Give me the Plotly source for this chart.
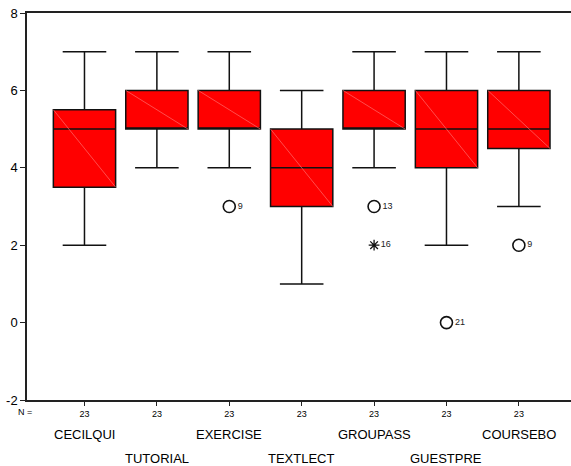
import plotly.graph_objects as go

categories = ["CECILQUI", "TUTORIAL", "EXERCISE", "TEXTLECT", "GROUPASS", "GUESTPRE", "COURSEBO"]
n_counts = [23, 23, 23, 23, 23, 23, 23]
lower_whisker = [2, 4, 4, 1, 4, 2, 3]
q1_vals = [3.5, 5, 5, 3, 5, 4, 4.5]
median_vals = [5, 5, 5, 4, 5, 5, 5]
q3_vals = [5.5, 6, 6, 5, 6, 6, 6]
upper_whisker = [7, 7, 7, 6, 7, 7, 7]

# outliers: (category index, value, case label)
outlier_cat = [2, 4, 5, 6]
outlier_val = [3, 3, 0, 2]
outlier_lab = ["9", "13", "21", "9"]
extreme_cat = [4]
extreme_val = [2]
extreme_lab = ["16"]

y_ticks = [-2, 0, 2, 4, 6, 8]

BOX_W = 0.86
fig = go.Figure()
for i, name in enumerate(categories):
    fig.add_trace(go.Box(
        x=[i], q1=[q1_vals[i]], median=[median_vals[i]], q3=[q3_vals[i]],
        lowerfence=[lower_whisker[i]], upperfence=[upper_whisker[i]],
        width=BOX_W, whiskerwidth=0.7, boxpoints=False,
        fillcolor="#FF0000", line=dict(color="#111111", width=1.5),
        name=name, showlegend=False, hoverinfo="skip",
    ))
    # faint diagonal artifact across each box
    fig.add_shape(type="line", xref="x", yref="y",
                  x0=i - BOX_W / 2, y0=q3_vals[i], x1=i + BOX_W / 2, y1=q1_vals[i],
                  line=dict(color="#FF8080", width=0.6), layer="above")

fig.add_trace(go.Scatter(
    x=outlier_cat, y=outlier_val, mode="markers+text",
    marker=dict(symbol="circle-open", size=12, color="#111111", line=dict(width=1.6)),
    text=outlier_lab, textposition="middle right",
    textfont=dict(size=9, color="#222222", family="Liberation Sans, Arial"),
    showlegend=False, hoverinfo="skip", cliponaxis=False,
))
fig.add_trace(go.Scatter(
    x=extreme_cat, y=extreme_val, mode="markers+text",
    marker=dict(symbol="asterisk-open", size=9, color="#111111", line=dict(width=1.3, color="#111111")),
    text=extreme_lab, textposition="middle right",
    textfont=dict(size=9, color="#222222", family="Liberation Sans, Arial"),
    showlegend=False, hoverinfo="skip", cliponaxis=False,
))

# category names staggered in two rows
for i, name in enumerate(categories):
    fig.add_annotation(x=i, y=-0.0904 if i % 2 == 0 else -0.15, xref="x", yref="paper",
                       text=name, showarrow=False, yanchor="middle",
                       font=dict(size=13, color="#000000", family="Liberation Sans, Arial"))
fig.add_annotation(x=-0.004, y=-0.031, xref="paper", yref="paper", text="N =",
                   showarrow=False, yanchor="middle", xanchor="center",
                   font=dict(size=9, color="#000000", family="Liberation Sans, Arial"))

fig.update_layout(
    width=571, height=466,
    margin=dict(l=27, r=0, t=13, b=66, autoexpand=False),
    paper_bgcolor="white", plot_bgcolor="white",
    font=dict(family="Liberation Sans, Arial", color="#000000"),
    xaxis=dict(range=[-0.794, 6.72], tickmode="array", tickvals=list(range(len(categories))),
               ticktext=[str(n) for n in n_counts], tickfont=dict(size=9), automargin=False,
               showline=True, linecolor="#222222", linewidth=1.5, mirror=True,
               ticks="outside", ticklen=4, tickcolor="#222222", showgrid=False, zeroline=False),
    yaxis=dict(range=[-2, 8], tickmode="array", tickvals=y_ticks,
               ticktext=[str(v) for v in y_ticks], automargin=False,
               tickfont=dict(size=13), showline=True, linecolor="#222222", linewidth=1.5,
               ticks="outside", ticklen=5, tickcolor="#222222", showgrid=False, zeroline=False),
)
# remove the page's default body margin so the figure fills the window exactly
fig.write_html("out.html", config={"displayModeBar": False},
               post_script="document.body.style.margin='0';document.body.style.overflow='hidden';")
